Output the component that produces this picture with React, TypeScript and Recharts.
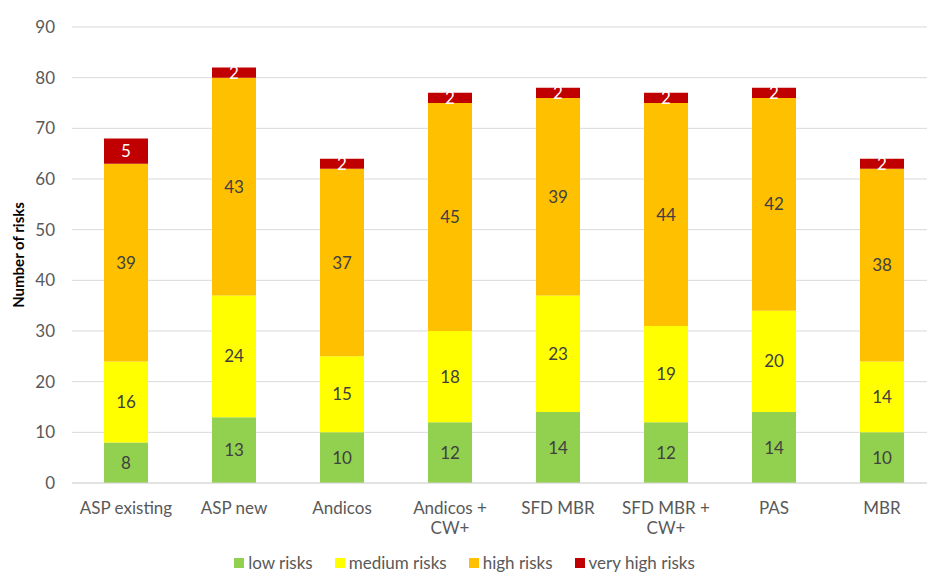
import React from "react";
import {
  Bar,
  BarChart,
  CartesianGrid,
  LabelList,
  Legend,
  XAxis,
  YAxis,
} from "recharts";

const options = ["ASP existing", "ASP new", "Andicos", "Andicos + CW+", "SFD MBR", "SFD MBR + CW+", "PAS", "MBR"];
const lowRisks = [8, 13, 10, 12, 14, 12, 14, 10];
const mediumRisks = [16, 24, 15, 18, 23, 19, 20, 14];
const highRisks = [39, 43, 37, 45, 39, 44, 42, 38];
const veryHighRisks = [5, 2, 2, 2, 2, 2, 2, 2];
const yTicks = [0, 10, 20, 30, 40, 50, 60, 70, 80, 90];

const series = [
  { key: "low", name: "low risks", color: "#92D050", text: "#404040" },
  { key: "medium", name: "medium risks", color: "#FFFF00", text: "#404040" },
  { key: "high", name: "high risks", color: "#FFC000", text: "#404040" },
  { key: "veryHigh", name: "very high risks", color: "#C00000", text: "#FFFFFF" },
];

const data = options.map((name, i) => ({
  name,
  low: lowRisks[i],
  medium: mediumRisks[i],
  high: highRisks[i],
  veryHigh: veryHighRisks[i],
}));

const FONT = "Lato, 'Noto Sans', sans-serif";
const AXIS_TEXT = "#595959";

// "Andicos + CW+" -> ["Andicos +", "CW+"]
const splitLabel = (label: string) => {
  const idx = label.indexOf(" + ");
  if (idx < 0) return [label];
  return [label.slice(0, idx + 2), label.slice(idx + 3)];
};

const CategoryTick = ({ x, y, payload }: any) => {
  const lines = splitLabel(String(payload.value));
  return (
    <text x={x} y={y} textAnchor="middle" fill={AXIS_TEXT} fontSize={17} fontFamily={FONT}>
      {lines.map((line, i) => (
        <tspan key={i} x={x} dy={i === 0 ? 29 : 20}>
          {line}
        </tspan>
      ))}
    </text>
  );
};

// legend keeps the stacking order (low -> very high)
const RiskLegend = () => (
  <div
    style={{
      display: "flex",
      justifyContent: "center",
      alignItems: "center",
      paddingLeft: 24,
      fontFamily: FONT,
      fontSize: 17,
      lineHeight: "17px",
      color: AXIS_TEXT,
    }}
  >
    {series.map((s) => (
      <div key={s.key} style={{ display: "flex", alignItems: "center", marginRight: 22 }}>
        <span style={{ width: 10, height: 10, background: s.color, marginRight: 4 }} />
        <span>{s.name}</span>
      </div>
    ))}
  </div>
);

const AxisTitle = ({ viewBox }: any) => {
  const cx = 18;
  const cy = viewBox.y + viewBox.height / 2;
  return (
    <text
      x={cx}
      y={cy}
      transform={`rotate(-90, ${cx}, ${cy})`}
      textAnchor="middle"
      dominantBaseline="central"
      fontFamily={FONT}
      fontSize={15}
      fontWeight={700}
      fill="#000"
    >
      Number of risks
    </text>
  );
};

export default function App() {
  return (
    <div
      style={{
        position: "absolute",
        left: 0,
        top: 0,
        width: 927,
        height: 574,
        overflow: "hidden",
        background: "#fff",
      }}
    >
      <BarChart
        width={936}
        height={574}
        data={data}
        margin={{ top: 27, right: 0, bottom: 0, left: 0 }}
        barSize={44}
      >
        <CartesianGrid vertical={false} stroke="#D9D9D9" strokeWidth={1} />
        <XAxis
          dataKey="name"
          height={91}
          axisLine={{ stroke: "#D9D9D9" }}
          tickLine={false}
          tickSize={0}
          tick={<CategoryTick />}
          interval={0}
        />
        <YAxis
          width={72}
          domain={[0, 90]}
          ticks={yTicks}
          axisLine={false}
          tickLine={false}
          tickMargin={11}
          tick={{ fill: AXIS_TEXT, fontSize: 17, fontFamily: FONT }}
          label={<AxisTitle />}
        />
        <Legend
          layout="horizontal"
          verticalAlign="middle"
          align="center"
          wrapperStyle={{ top: 554, left: 0, width: 927 }}
          content={<RiskLegend />}
        />
        {series.map((s) => (
          <Bar
            key={s.key}
            dataKey={s.key}
            name={s.name}
            stackId="risks"
            fill={s.color}
            isAnimationActive={false}
          >
            <LabelList
              dataKey={s.key}
              position="center"
              fill={s.text}
              fontSize={17}
              fontFamily={FONT}
            />
          </Bar>
        ))}
      </BarChart>
    </div>
  );
}
